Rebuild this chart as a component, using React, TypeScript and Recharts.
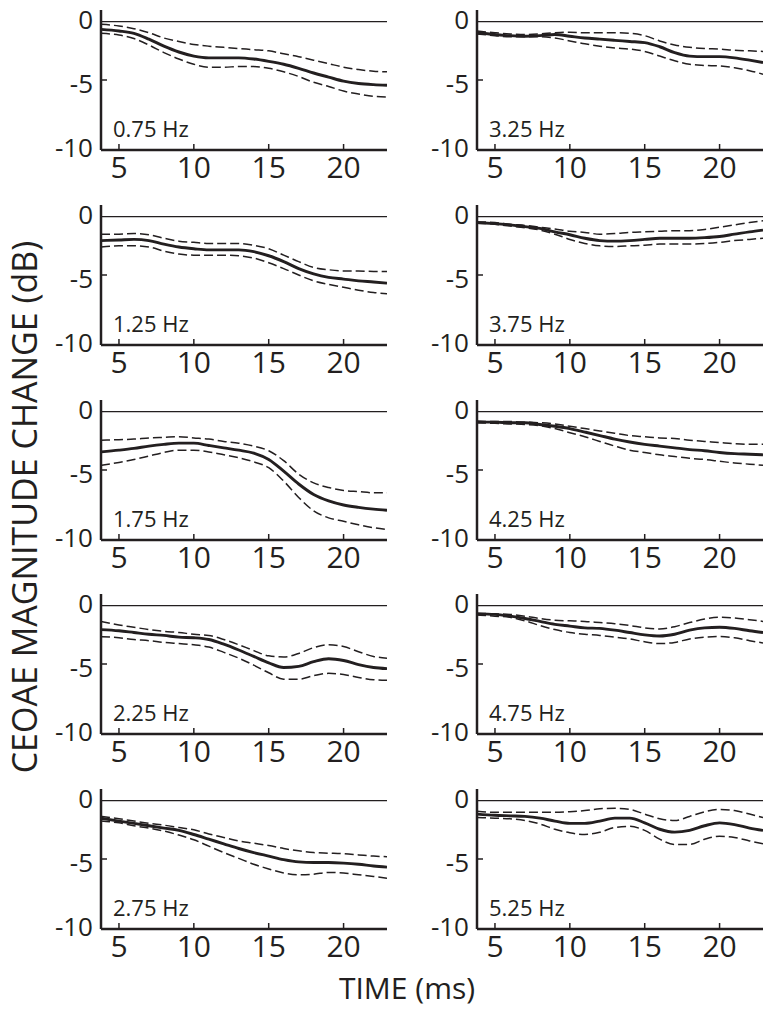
import { LineChart, Line, XAxis, YAxis, ReferenceLine } from 'recharts';

// time samples (ms) shared by every panel
const TIME_MS = [3.8, 5, 6, 7, 8, 9, 10, 11, 12, 13, 14, 15, 16, 17, 18, 19, 20, 21, 22, 22.9];
const X_TICKS = [5, 10, 15, 20];
const Y_TICKS = [0, -5, -10];

// mean and upper/lower bounds (dB), one triple per modulation frequency
const mean075 = [-0.66, -0.8, -1.0, -1.5, -2.1, -2.6, -2.95, -3.1, -3.1, -3.1, -3.2, -3.4, -3.65, -4.0, -4.4, -4.75, -5.1, -5.3, -5.4, -5.45];
const upper075 = [-0.23, -0.37, -0.6, -0.95, -1.4, -1.7, -1.95, -2.1, -2.2, -2.3, -2.4, -2.5, -2.75, -3.0, -3.3, -3.6, -3.9, -4.1, -4.25, -4.3];
const lower075 = [-1.0, -1.15, -1.45, -2.0, -2.65, -3.2, -3.65, -3.9, -3.9, -3.85, -3.85, -4.0, -4.3, -4.7, -5.2, -5.55, -5.95, -6.2, -6.4, -6.45];

const mean125 = [-2.05, -2.0, -1.95, -2.05, -2.35, -2.6, -2.75, -2.85, -2.85, -2.85, -3.0, -3.35, -3.85, -4.45, -4.9, -5.2, -5.35, -5.5, -5.6, -5.7];
const upper125 = [-1.5, -1.5, -1.45, -1.55, -1.85, -2.1, -2.2, -2.3, -2.3, -2.3, -2.45, -2.75, -3.3, -3.85, -4.35, -4.55, -4.65, -4.65, -4.7, -4.7];
const lower125 = [-2.6, -2.5, -2.5, -2.6, -2.95, -3.2, -3.3, -3.3, -3.3, -3.35, -3.55, -3.95, -4.45, -5.0, -5.5, -5.8, -6.05, -6.3, -6.5, -6.6];

const mean175 = [-3.45, -3.3, -3.15, -2.95, -2.8, -2.7, -2.7, -2.9, -3.1, -3.3, -3.55, -4.1, -5.1, -6.2, -7.1, -7.65, -8.0, -8.2, -8.35, -8.45];
const upper175 = [-2.45, -2.4, -2.35, -2.25, -2.2, -2.15, -2.25, -2.35, -2.55, -2.7, -2.95, -3.35, -4.2, -5.35, -6.1, -6.5, -6.75, -6.85, -6.95, -6.95];
const lower175 = [-4.6, -4.35, -4.1, -3.8, -3.5, -3.3, -3.3, -3.45, -3.7, -3.95, -4.3, -4.8, -5.95, -7.35, -8.5, -9.1, -9.4, -9.7, -9.95, -10.1];

const mean225 = [-2.05, -2.15, -2.3, -2.45, -2.55, -2.7, -2.75, -2.9, -3.3, -3.8, -4.35, -4.9, -5.3, -5.2, -4.8, -4.55, -4.7, -5.05, -5.3, -5.4];
const upper225 = [-1.35, -1.65, -1.85, -2.05, -2.2, -2.3, -2.45, -2.55, -2.9, -3.35, -3.85, -4.3, -4.4, -4.1, -3.6, -3.35, -3.5, -3.95, -4.35, -4.5];
const lower225 = [-2.65, -2.75, -2.9, -3.0, -3.15, -3.25, -3.35, -3.55, -4.0, -4.5, -5.1, -5.75, -6.3, -6.3, -6.0, -5.8, -5.9, -6.15, -6.35, -6.4];

const mean275 = [-1.5, -1.75, -1.95, -2.15, -2.35, -2.55, -2.9, -3.3, -3.7, -4.1, -4.45, -4.75, -5.05, -5.25, -5.3, -5.3, -5.35, -5.45, -5.6, -5.7];
const upper275 = [-1.35, -1.55, -1.75, -1.95, -2.1, -2.3, -2.5, -2.85, -3.15, -3.45, -3.65, -3.85, -4.1, -4.3, -4.45, -4.5, -4.55, -4.65, -4.75, -4.8];
const lower275 = [-1.75, -1.9, -2.15, -2.35, -2.6, -2.95, -3.35, -3.9, -4.45, -4.95, -5.45, -5.85, -6.2, -6.35, -6.3, -6.15, -6.2, -6.35, -6.5, -6.65];

const mean325 = [-0.95, -1.1, -1.2, -1.25, -1.2, -1.1, -1.25, -1.4, -1.5, -1.6, -1.7, -1.8, -2.15, -2.65, -2.95, -3.0, -3.0, -3.1, -3.3, -3.5];
const upper325 = [-0.8, -0.95, -1.05, -1.1, -1.05, -0.95, -0.9, -0.95, -0.95, -0.95, -1.0, -1.2, -1.65, -2.0, -2.2, -2.3, -2.35, -2.45, -2.5, -2.55];
const lower325 = [-1.05, -1.2, -1.3, -1.3, -1.3, -1.4, -1.65, -1.9, -2.1, -2.25, -2.35, -2.55, -2.95, -3.35, -3.65, -3.75, -3.8, -3.95, -4.2, -4.5];

const mean375 = [-0.5, -0.6, -0.7, -0.85, -1.0, -1.3, -1.55, -1.85, -2.05, -2.1, -2.05, -1.95, -1.85, -1.85, -1.85, -1.8, -1.7, -1.5, -1.3, -1.15];
const upper375 = [-0.45, -0.5, -0.65, -0.75, -0.9, -1.05, -1.25, -1.35, -1.5, -1.45, -1.35, -1.3, -1.25, -1.2, -1.2, -1.1, -0.9, -0.7, -0.5, -0.35];
const lower375 = [-0.55, -0.65, -0.8, -0.95, -1.15, -1.5, -1.95, -2.3, -2.5, -2.55, -2.5, -2.45, -2.35, -2.35, -2.35, -2.3, -2.2, -2.05, -1.95, -1.85];

const mean425 = [-0.9, -0.9, -0.95, -0.95, -1.1, -1.25, -1.45, -1.75, -2.05, -2.35, -2.6, -2.8, -2.95, -3.1, -3.25, -3.35, -3.5, -3.6, -3.65, -3.7];
const upper425 = [-0.8, -0.85, -0.85, -0.9, -0.95, -1.05, -1.25, -1.45, -1.65, -1.85, -2.05, -2.15, -2.25, -2.3, -2.45, -2.55, -2.65, -2.75, -2.8, -2.8];
const lower425 = [-0.95, -1.0, -1.05, -1.1, -1.2, -1.45, -1.8, -2.15, -2.55, -2.95, -3.3, -3.5, -3.7, -3.85, -4.0, -4.1, -4.25, -4.4, -4.5, -4.6];

const mean475 = [-0.7, -0.75, -0.9, -1.1, -1.35, -1.6, -1.75, -1.9, -1.95, -2.1, -2.3, -2.5, -2.6, -2.45, -2.1, -1.9, -1.85, -1.95, -2.15, -2.3];
const upper475 = [-0.65, -0.7, -0.75, -0.9, -1.1, -1.25, -1.3, -1.35, -1.45, -1.55, -1.7, -1.9, -2.0, -1.8, -1.45, -1.15, -1.0, -1.05, -1.2, -1.35];
const lower475 = [-0.8, -0.9, -1.0, -1.3, -1.7, -2.05, -2.3, -2.45, -2.55, -2.7, -2.85, -3.1, -3.25, -3.15, -2.85, -2.7, -2.65, -2.75, -3.0, -3.2];

const mean525 = [-1.15, -1.25, -1.3, -1.35, -1.5, -1.75, -1.95, -1.95, -1.75, -1.5, -1.5, -1.9, -2.45, -2.7, -2.55, -2.15, -1.9, -2.05, -2.35, -2.55];
const upper525 = [-0.9, -1.0, -1.0, -1.0, -1.0, -1.0, -0.95, -0.85, -0.7, -0.65, -0.75, -1.15, -1.55, -1.7, -1.35, -0.95, -0.75, -0.85, -1.15, -1.45];
const lower525 = [-1.45, -1.5, -1.55, -1.7, -2.0, -2.45, -2.75, -2.9, -2.7, -2.3, -2.2, -2.55, -3.3, -3.75, -3.75, -3.3, -3.05, -3.15, -3.45, -3.7];

const PANELS = [
  { label: '0.75 Hz', col: 0, row: 0, mean: mean075, upper: upper075, lower: lower075 },
  { label: '1.25 Hz', col: 0, row: 1, mean: mean125, upper: upper125, lower: lower125 },
  { label: '1.75 Hz', col: 0, row: 2, mean: mean175, upper: upper175, lower: lower175 },
  { label: '2.25 Hz', col: 0, row: 3, mean: mean225, upper: upper225, lower: lower225 },
  { label: '2.75 Hz', col: 0, row: 4, mean: mean275, upper: upper275, lower: lower275 },
  { label: '3.25 Hz', col: 1, row: 0, mean: mean325, upper: upper325, lower: lower325 },
  { label: '3.75 Hz', col: 1, row: 1, mean: mean375, upper: upper375, lower: lower375 },
  { label: '4.25 Hz', col: 1, row: 2, mean: mean425, upper: upper425, lower: lower425 },
  { label: '4.75 Hz', col: 1, row: 3, mean: mean475, upper: upper475, lower: lower475 },
  { label: '5.25 Hz', col: 1, row: 4, mean: mean525, upper: upper525, lower: lower525 },
];

const INK = '#231f20';
const FONT = '"Open Sans", "Noto Sans", sans-serif';
const AXIS_X = [101, 477];
const ROW_TOP = 10;
const ROW_STEP = 194.75;
const PLOT_W = 286;
const PLOT_H = 140;
const Y_AXIS_W = 60;
const X_AXIS_H = 40;
const TOP_PAD = 14;

function XTick(props: any) {
  const { x, y, payload } = props;
  return (
    <g>
      <line x1={x} x2={x} y1={y} y2={y - 6} stroke={INK} strokeWidth={1.5} />
      <text x={x} y={y + 28} textAnchor="middle" fontSize={30} fontFamily={FONT} fill={INK}>
        {payload.value}
      </text>
    </g>
  );
}

function YTick(props: any) {
  const { x, y, payload } = props;
  const v = Number(payload.value);
  const inner = v < 0 && v > -10;
  return (
    <g>
      {inner && <line x1={x} x2={x + 6} y1={y} y2={y} stroke={INK} strokeWidth={1.5} />}
      <text
        x={x - 8}
        y={y - 2 - v * 1.1}
        dy="0.36em"
        textAnchor="end"
        fontSize={26}
        fontFamily={FONT}
        fill={INK}
      >
        {payload.value}
      </text>
    </g>
  );
}

function Panel(props: { panel: (typeof PANELS)[number] }) {
  const p = props.panel;
  const data = TIME_MS.map((t, i) => ({ t, mean: p.mean[i], upper: p.upper[i], lower: p.lower[i] }));
  const left = AXIS_X[p.col] - Y_AXIS_W;
  const top = ROW_TOP + p.row * ROW_STEP - TOP_PAD;
  return (
    <div style={{ position: 'absolute', left, top }}>
      <LineChart
        width={Y_AXIS_W + PLOT_W}
        height={TOP_PAD + PLOT_H + X_AXIS_H}
        data={data}
        margin={{ top: TOP_PAD, right: 0, left: 0, bottom: 0 }}
      >
        <XAxis
          dataKey="t"
          type="number"
          domain={[3.8, 22.9]}
          ticks={X_TICKS}
          allowDataOverflow
          height={X_AXIS_H}
          tickSize={0}
          tickMargin={0}
          tickLine={false}
          axisLine={{ stroke: INK, strokeWidth: 2.5 }}
          tick={XTick}
        />
        <YAxis
          type="number"
          domain={[-11, 1]}
          ticks={Y_TICKS}
          allowDataOverflow
          width={Y_AXIS_W}
          tickSize={0}
          tickMargin={0}
          tickLine={false}
          axisLine={{ stroke: INK, strokeWidth: 2.5 }}
          tick={YTick}
        />
        <ReferenceLine y={0} stroke={INK} strokeWidth={1.4} />
        <Line
          type="monotone"
          dataKey="upper"
          stroke={INK}
          strokeWidth={1.5}
          strokeDasharray="9 4"
          dot={false}
          isAnimationActive={false}
        />
        <Line
          type="monotone"
          dataKey="lower"
          stroke={INK}
          strokeWidth={1.5}
          strokeDasharray="9 4"
          dot={false}
          isAnimationActive={false}
        />
        <Line
          type="monotone"
          dataKey="mean"
          stroke={INK}
          strokeWidth={2.9}
          dot={false}
          isAnimationActive={false}
        />
      </LineChart>
    </div>
  );
}

export default function App() {
  return (
    <div style={{ position: 'absolute', left: 0, top: 0, width: 764, height: 1012, background: '#fff', overflow: 'hidden' }}>
      {PANELS.map((p) => (
        <Panel key={p.label} panel={p} />
      ))}
      <svg
        width={764}
        height={1012}
        style={{ position: 'absolute', left: 0, top: 0, pointerEvents: 'none' }}
      >
        {PANELS.map((p) => (
          <text
            key={p.label}
            x={AXIS_X[p.col] + 12}
            y={ROW_TOP + p.row * ROW_STEP + 127}
            fontSize={22}
            fontFamily={FONT}
            fill={INK}
          >
            {p.label}
          </text>
        ))}
        <text
          transform="translate(36.5, 507) rotate(-90)"
          textAnchor="middle"
          fontSize={34}
          fontFamily={FONT}
          fill={INK}
        >
          CEOAE MAGNITUDE CHANGE (dB)
        </text>
        <text x={407} y={999} textAnchor="middle" fontSize={30} fontFamily={FONT} fill={INK}>
          TIME (ms)
        </text>
      </svg>
    </div>
  );
}
